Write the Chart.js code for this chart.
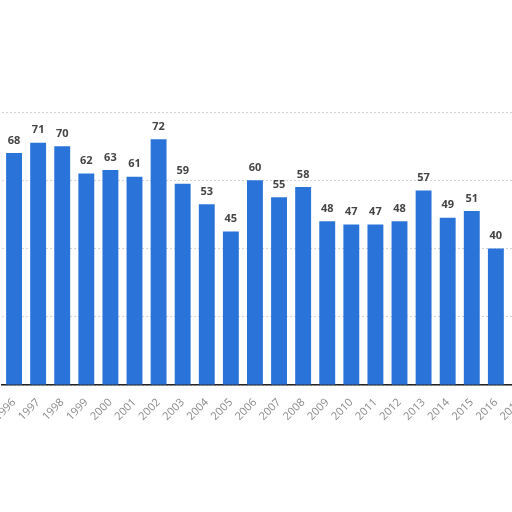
<!DOCTYPE html>
<html>
<head>
<meta charset="utf-8">
<script src="https://cdn.jsdelivr.net/npm/chart.js@4"></script>
<style>
  html, body { margin: 0; padding: 0; background: #fff; overflow: hidden; }
  #wrap { position: absolute; left: 0; top: 0; }
</style>
</head>
<body>
<div id="wrap"><canvas id="grafico" width="540" height="512"></canvas></div>
<script>
// anos e valores
const anos = ['1996','1997','1998','1999','2000','2001','2002','2003','2004','2005','2006',
              '2007','2008','2009','2010','2011','2012','2013','2014','2015','2016','2017'];
const valores = [68, 71, 70, 62, 63, 61, 72, 59, 53, 45, 60,
                 55, 58, 48, 47, 47, 48, 57, 49, 51, 40, 41];
const ticksY = [0, 20, 40, 60, 80];

// rótulos em cima das barras
const rotulos = {
  id: 'rotulos',
  afterDatasetsDraw(chart) {
    const ctx = chart.ctx;
    const meta = chart.getDatasetMeta(0);
    ctx.save();
    ctx.font = 'bold 11px "Open Sans", sans-serif';
    ctx.fillStyle = '#444';
    ctx.textAlign = 'center';
    ctx.textBaseline = 'bottom';
    meta.data.forEach((bar, i) => {
      ctx.fillText(valores[i], bar.x, bar.y - 7);
    });
    ctx.restore();
  }
};

const ctx = document.getElementById('grafico');
const grafico = new Chart(ctx, {
  type: 'bar',
  data: {
    labels: anos,
    datasets: [{
      data: valores,
      backgroundColor: '#2a74d9',
      borderWidth: 0,
      barPercentage: 0.66,
      categoryPercentage: 1
    }]
  },
  options: {
    responsive: false,
    animation: false,
    layout: { padding: { left: 2, right: 8, top: 112, bottom: 87 } },
    plugins: { legend: { display: false }, tooltip: { enabled: false } },
    scales: {
      x: {
        grid: { display: false },
        border: { display: true, color: '#222', width: 1.5 },
        ticks: {
          color: '#888',
          font: { size: 11, family: '"Open Sans", sans-serif' },
          minRotation: 45,
          maxRotation: 45,
          autoSkip: false
        },
        afterFit: s => { s.height = 40; s.paddingLeft = 0; s.paddingRight = 0; }
      },
      y: {
        min: ticksY[0],
        max: ticksY[ticksY.length - 1],
        afterBuildTicks: s => { s.ticks = ticksY.map(v => ({ value: v })); },
        ticks: { display: false },
        border: { display: false, dash: [2, 2] },
        grid: { color: '#d4d4d4', drawTicks: false },
        afterFit: s => { s.width = 0; }
      }
    }
  },
  plugins: [rotulos]
});
</script>
</body>
</html>
